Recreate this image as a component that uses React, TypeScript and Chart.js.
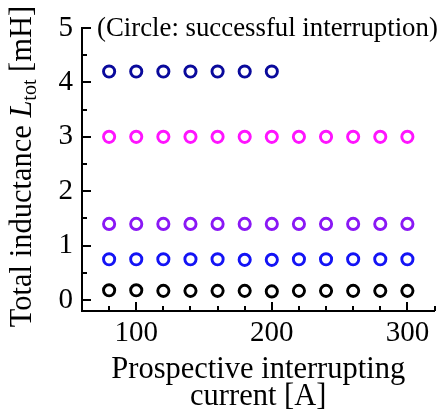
import React, { useEffect, useRef } from 'react';
import { Chart, registerables } from 'chart.js';

Chart.register(...registerables);

// ---- data ----
const currentsFull = [80, 100, 120, 140, 160, 180, 200, 220, 240, 260, 280, 300];
const currentsShort = [80, 100, 120, 140, 160, 180, 200];
const inductance018 = [0.18, 0.18, 0.17, 0.17, 0.17, 0.17, 0.16, 0.17, 0.17, 0.17, 0.17, 0.17];
const inductance075 = [0.75, 0.75, 0.75, 0.75, 0.75, 0.74, 0.74, 0.75, 0.75, 0.75, 0.75, 0.75];
const inductance14 = [1.4, 1.4, 1.4, 1.4, 1.4, 1.4, 1.4, 1.4, 1.4, 1.4, 1.4, 1.4];
const inductance30 = [3.0, 3.0, 3.0, 3.0, 3.0, 3.0, 3.0, 3.0, 3.0, 3.0, 3.0, 3.0];
const inductance42 = [4.2, 4.2, 4.2, 4.2, 4.2, 4.2, 4.2];

const xMajorTicks = [100, 200, 300];
const xMinorTicks = [80, 120, 140, 160, 180, 220, 240, 260, 280, 320];
const yMajorTicks = [0, 1, 2, 3, 4, 5];
const yMinorTicks = [0.5, 1.5, 2.5, 3.5, 4.5];

const xTitleLines = ['Prospective interrupting', 'current [A]'];
const yTitleParts = { before: 'Total inductance ', symbol: 'L', sub: 'tot', after: ' [mH]' };
const noteText = '(Circle: successful interruption)';

const FONT = '"Liberation Serif", "Times New Roman", serif';

const toPoints = (xs: number[], ys: number[]) => xs.map((x, i) => ({ x, y: ys[i] }));

const decorPlugin = {
  id: 'decor',
  afterDraw(chart: any) {
    const { ctx, chartArea, scales } = chart;
    const x = scales.x;
    const y = scales.y;
    ctx.save();
    ctx.strokeStyle = '#000';
    ctx.lineWidth = 2;
    ctx.beginPath();
    const b = chartArea.bottom;
    const l = chartArea.left;
    xMajorTicks.forEach((v) => {
      const px = Math.round(x.getPixelForValue(v));
      ctx.moveTo(px, b);
      ctx.lineTo(px, b - 9);
    });
    xMinorTicks.forEach((v) => {
      const px = Math.round(x.getPixelForValue(v));
      ctx.moveTo(px, b);
      ctx.lineTo(px, b - 5);
    });
    yMajorTicks.forEach((v) => {
      const py = Math.round(y.getPixelForValue(v));
      ctx.moveTo(l, py);
      ctx.lineTo(l + 9, py);
    });
    yMinorTicks.forEach((v) => {
      const py = Math.round(y.getPixelForValue(v));
      ctx.moveTo(l, py);
      ctx.lineTo(l + 5, py);
    });
    ctx.stroke();

    ctx.fillStyle = '#000';
    // x title
    ctx.font = `30.5px ${FONT}`;
    ctx.textAlign = 'center';
    ctx.textBaseline = 'alphabetic';
    const cx = (chartArea.left + chartArea.right) / 2;
    ctx.fillText(xTitleLines[0], cx, b + 67);
    ctx.fillText(xTitleLines[1], cx, b + 94);

    // note
    ctx.font = `26.8px ${FONT}`;
    ctx.textAlign = 'left';
    ctx.fillText(noteText, l + 15, y.getPixelForValue(5) + 8);

    // y title with italic symbol and subscript
    const mainFont = `30.5px ${FONT}`;
    const italFont = `italic 30.5px ${FONT}`;
    const subFont = `20px ${FONT}`;
    ctx.font = mainFont;
    const w1 = ctx.measureText(yTitleParts.before).width;
    const w4 = ctx.measureText(yTitleParts.after).width;
    ctx.font = italFont;
    const w2 = ctx.measureText(yTitleParts.symbol).width;
    ctx.font = subFont;
    const w3 = ctx.measureText(yTitleParts.sub).width;
    const total = w1 + w2 + w3 + w4;
    const cy = (chartArea.top + chartArea.bottom) / 2 - 3;
    ctx.translate(31, cy);
    ctx.rotate(-Math.PI / 2);
    let pos = -total / 2;
    ctx.textAlign = 'left';
    ctx.font = mainFont;
    ctx.fillText(yTitleParts.before, pos, 0);
    pos += w1;
    ctx.font = italFont;
    ctx.fillText(yTitleParts.symbol, pos, 0);
    pos += w2;
    ctx.font = subFont;
    ctx.fillText(yTitleParts.sub, pos, 5);
    pos += w3;
    ctx.font = mainFont;
    ctx.fillText(yTitleParts.after, pos, 0);
    ctx.restore();
  },
};

const seriesStyle = (color: string) => ({
  showLine: false,
  pointStyle: 'circle' as const,
  pointRadius: 5.6,
  pointHoverRadius: 5.6,
  pointBorderWidth: 2.9,
  borderColor: color,
  backgroundColor: 'rgba(0,0,0,0)',
  pointBackgroundColor: 'rgba(0,0,0,0)',
  pointBorderColor: color,
});

export default function App() {
  const canvasRef = useRef<HTMLCanvasElement | null>(null);

  useEffect(() => {
    if (!canvasRef.current) return;
    const chart = new Chart(canvasRef.current, {
      type: 'scatter',
      data: {
        datasets: [
          { label: '0.18 mH', data: toPoints(currentsFull, inductance018), ...seriesStyle('#000000') },
          { label: '0.75 mH', data: toPoints(currentsFull, inductance075), ...seriesStyle('#1414f5') },
          { label: '1.4 mH', data: toPoints(currentsFull, inductance14), ...seriesStyle('#8a18f5') },
          { label: '3.0 mH', data: toPoints(currentsFull, inductance30), ...seriesStyle('#ff14ff') },
          { label: '4.2 mH', data: toPoints(currentsShort, inductance42), ...seriesStyle('#0a0a9c') },
        ],
      },
      options: {
        responsive: false,
        animation: false,
        events: [],
        layout: { padding: { top: 28, right: 6, left: 0, bottom: 0 } },
        plugins: {
          legend: { display: false },
          tooltip: { enabled: false },
        },
        scales: {
          x: {
            type: 'linear',
            min: 60,
            max: 320,
            grid: { display: false, drawTicks: false },
            border: { display: true, color: '#000', width: 2 },
            ticks: {
              color: '#000',
              font: { family: FONT, size: 29 },
              padding: 5,
              maxRotation: 0,
            },
            afterBuildTicks: (scale: any) => {
              scale.ticks = xMajorTicks.map((value) => ({ value }));
            },
            afterFit: (scale: any) => {
              scale.height = 102;
              scale.paddingLeft = 0;
              scale.paddingRight = 0;
            },
          },
          y: {
            type: 'linear',
            min: -0.2,
            max: 5,
            grid: { display: false, drawTicks: false },
            border: { display: true, color: '#000', width: 2 },
            ticks: {
              color: '#000',
              font: { family: FONT, size: 29 },
              padding: 9,
            },
            afterBuildTicks: (scale: any) => {
              scale.ticks = yMajorTicks.map((value) => ({ value }));
            },
            afterFit: (scale: any) => {
              scale.width = 82;
              scale.paddingTop = 0;
              scale.paddingBottom = 0;
            },
          },
        },
      },
      plugins: [decorPlugin],
    });
    return () => chart.destroy();
  }, []);

  return (
    <div style={{ position: 'absolute', left: 0, top: 0, width: 443, height: 413, background: '#fff' }}>
      <canvas ref={canvasRef} width={443} height={413} />
    </div>
  );
}
